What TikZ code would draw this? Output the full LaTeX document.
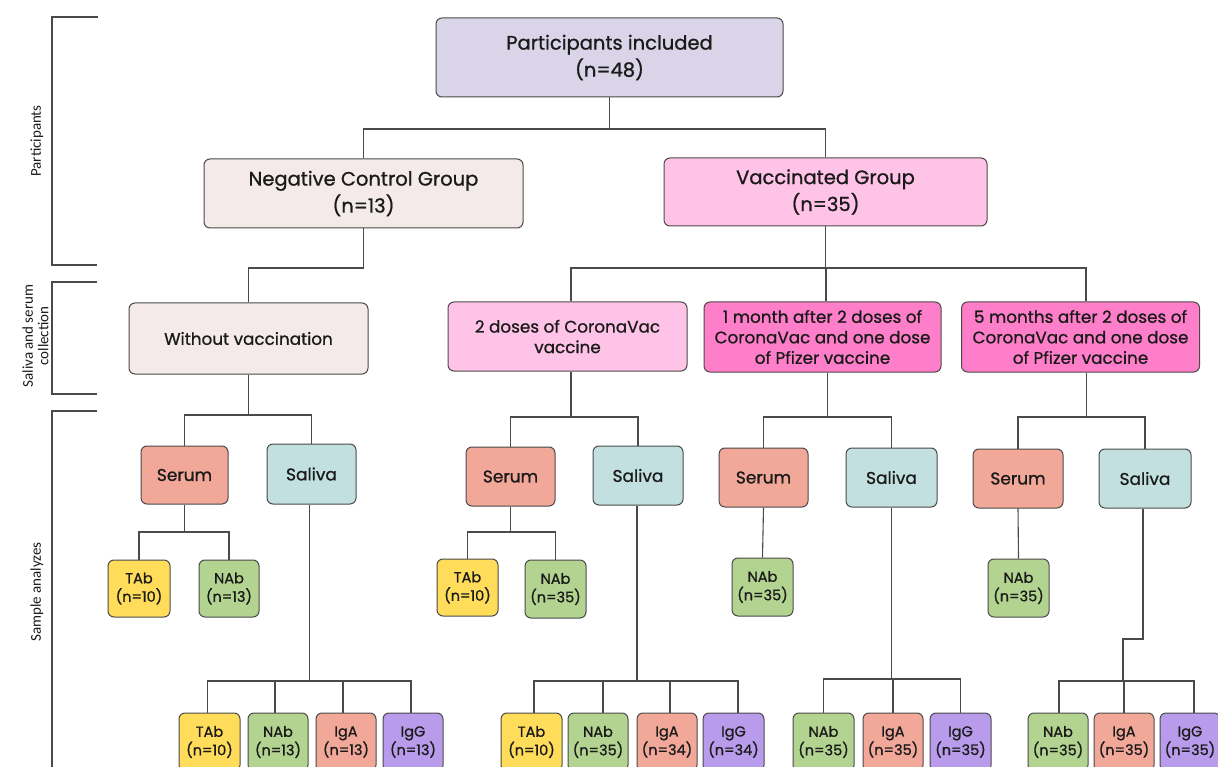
\documentclass[tikz,border=0pt]{standalone}
\usepackage{fontspec}
\setmainfont{Poppins}[FakeBold=0.9]
\newfontfamily\sidefont{Carlito}
\definecolor{clav}{HTML}{D9D4E7}
\definecolor{cneg}{HTML}{F4EAEA}
\definecolor{cpink}{HTML}{FFC3E7}
\definecolor{chot}{HTML}{FF7EC9}
\definecolor{cserum}{HTML}{F2A899}
\definecolor{csaliva}{HTML}{C3E0E0}
\definecolor{cyel}{HTML}{FFDD5A}
\definecolor{cgreen}{HTML}{B3D490}
\definecolor{cpurple}{HTML}{B89CEB}
\definecolor{cline}{HTML}{4A4A4A}
\definecolor{ctext}{HTML}{1A1A1A}
\tikzset{
  box/.style={draw=cline, line width=1pt, rounded corners=6pt, align=center,
    inner sep=0pt, text=ctext},
  fbig/.style={font={\fontsize{19.5}{27}\selectfont}},
  fmid/.style={font={\fontsize{16.8}{20.5}\selectfont}},
  fser/.style={font={\fontsize{17}{20}\selectfont}},
  fsmall/.style={font={\fontsize{14.5}{18.5}\selectfont}},
  conn/.style={draw=cline, line width=1.1pt},
  sidelab/.style={font={\sidefont\fontsize{15}{15.5}\selectfont}, rotate=90, align=center, text=ctext},
  bracket/.style={draw=cline, line width=1.1pt},
}
\begin{document}
\begin{tikzpicture}[x=1pt,y=-1pt]
\useasboundingbox (0,0) rectangle (1218,767);
\clip (0,0) rectangle (1218,767);
% side brackets
\draw[bracket] (98,17) -- (52,17) -- (52,265) -- (97,265);
\draw[bracket] (97,282) -- (52,282) -- (52,394) -- (97,394);
\draw[bracket] (97,411) -- (52,411) -- (52,775);
\node[sidelab] (L1) at (37,141) {Participants};
\node[sidelab] (L2) at (35.5,336) {Saliva and serum\\collection};
\node[sidelab] (L3) at (37,592) {Sample analyzes};
% level 0-1
\node[box,fbig,fill=clav,minimum width=347pt,minimum height=79pt] (P) at (609.5,57.5) {Participants included\\(n=48)};
\node[box,fbig,fill=cneg,minimum width=319pt,minimum height=69pt] (NC) at (363.5,193.5) {Negative Control Group\\(n=13)};
\node[box,fbig,fill=cpink,minimum width=323pt,minimum height=68pt] (VG) at (825.5,192) {Vaccinated Group\\(n=35)};
% level 2
\node[box,fmid,fill=cneg,minimum width=239pt,minimum height=71pt] (WV) at (248.5,338.5) {Without vaccination};
\node[box,fmid,fill=cpink,minimum width=239pt,minimum height=69pt] (D2) at (567.5,336.5) {2 doses of CoronaVac\\vaccine};
\node[box,fmid,fill=chot,minimum width=237pt,minimum height=70pt] (M1) at (822.5,337) {1 month after 2 doses of\\CoronaVac and one dose\\of Pfizer vaccine};
\node[box,fmid,fill=chot,minimum width=238pt,minimum height=70pt] (M5) at (1080.5,337) {5 months after 2 doses of\\CoronaVac and one dose\\of Pfizer vaccine};
% serum / saliva
\node[box,fser,fill=cserum,minimum width=87pt,minimum height=58pt] (Se1) at (184.5,475) {Serum};
\node[box,fser,fill=csaliva,minimum width=89pt,minimum height=60pt] (Sa1) at (311.5,474) {Saliva};
\node[box,fser,fill=cserum,minimum width=89pt,minimum height=59pt] (Se2) at (510.5,476.5) {Serum};
\node[box,fser,fill=csaliva,minimum width=90pt,minimum height=59pt] (Sa2) at (638,475.5) {Saliva};
\node[box,fser,fill=cserum,minimum width=89pt,minimum height=59pt] (Se3) at (763.5,477.5) {Serum};
\node[box,fser,fill=csaliva,minimum width=91pt,minimum height=59pt] (Sa3) at (891.5,477.5) {Saliva};
\node[box,fser,fill=cserum,minimum width=90pt,minimum height=59pt] (Se4) at (1018,478.5) {Serum};
\node[box,fser,fill=csaliva,minimum width=92pt,minimum height=59pt] (Sa4) at (1145,478.5) {Saliva};
% serum analyses
\node[box,fsmall,fill=cyel,minimum width=62pt,minimum height=57pt] (T1) at (139,588.5) {TAb\\(n=10)};
\node[box,fsmall,fill=cgreen,minimum width=60pt,minimum height=57pt] (N1) at (229,588.5) {NAb\\(n=13)};
\node[box,fsmall,fill=cyel,minimum width=61pt,minimum height=57pt] (T2) at (467.5,587.5) {TAb\\(n=10)};
\node[box,fsmall,fill=cgreen,minimum width=61pt,minimum height=58pt] (N2) at (555.5,589) {NAb\\(n=35)};
\node[box,fsmall,fill=cgreen,minimum width=61pt,minimum height=58pt] (N3) at (762.5,587) {NAb\\(n=35)};
\node[box,fsmall,fill=cgreen,minimum width=61pt,minimum height=58pt] (N4) at (1018.5,588) {NAb\\(n=35)};
% saliva analyses
\node[box,fsmall,fill=cyel,minimum width=61pt,minimum height=58pt] (bT1) at (209.5,742) {TAb\\(n=10)};
\node[box,fsmall,fill=cgreen,minimum width=60pt,minimum height=58pt] (bN1) at (278,742) {NAb\\(n=13)};
\node[box,fsmall,fill=cserum,minimum width=60pt,minimum height=58pt] (bA1) at (346,742) {IgA\\(n=13)};
\node[box,fsmall,fill=cpurple,minimum width=60pt,minimum height=58pt] (bG1) at (413,742) {IgG\\(n=13)};
\node[box,fsmall,fill=cyel,minimum width=61pt,minimum height=58pt] (bT2) at (531.5,742) {TAb\\(n=10)};
\node[box,fsmall,fill=cgreen,minimum width=60pt,minimum height=58pt] (bN2) at (598,742) {NAb\\(n=35)};
\node[box,fsmall,fill=cserum,minimum width=60pt,minimum height=58pt] (bA2) at (667,742) {IgA\\(n=34)};
\node[box,fsmall,fill=cpurple,minimum width=61pt,minimum height=58pt] (bG2) at (733.5,742) {IgG\\(n=34)};
\node[box,fsmall,fill=cgreen,minimum width=61pt,minimum height=58pt] (bN3) at (823.5,742) {NAb\\(n=35)};
\node[box,fsmall,fill=cserum,minimum width=60pt,minimum height=58pt] (bA3) at (893,742) {IgA\\(n=35)};
\node[box,fsmall,fill=cpurple,minimum width=61pt,minimum height=58pt] (bG3) at (960.5,742) {IgG\\(n=35)};
\node[box,fsmall,fill=cgreen,minimum width=60pt,minimum height=58pt] (bN4) at (1058,742) {NAb\\(n=35)};
\node[box,fsmall,fill=cserum,minimum width=60pt,minimum height=58pt] (bA4) at (1124,742) {IgA\\(n=35)};
\node[box,fsmall,fill=cpurple,minimum width=60pt,minimum height=58pt] (bG4) at (1190,742) {IgG\\(n=35)};
% junction levels
\coordinate (y1) at (0,129);
\coordinate (y2) at (0,268);
\coordinate (y3) at (0,415);
\coordinate (y3b) at (0,417);
\coordinate (y4) at (0,532);
\coordinate (y5) at (0,681);
\coordinate (y5b) at (0,679);
% connectors level 0 -> 1
\draw[conn] (P.south) -- (P.south |- y1) coordinate (jP);
\draw[conn] (jP) -| (NC.north);
\draw[conn] (jP) -| (VG.north);
% level 1 -> 2
\draw[conn] (NC.south) |- (WV.north |- y2) -- (WV.north);
\draw[conn] (VG.south) -- (VG.south |- y2) coordinate (jV);
\draw[conn] (jV) -| ([xshift=3.5pt]D2.north);
\draw[conn] (jV) -| ([xshift=3.5pt]M1.north);
\draw[conn] (jV) -| ([xshift=5.5pt]M5.north);
% level 2 -> 3
\draw[conn] (WV.south) -- (WV.south |- y3) coordinate (jW);
\draw[conn] (jW) -| (Se1.north);
\draw[conn] (jW) -| (Sa1.north);
\draw[conn] ([xshift=3.5pt]D2.south) -- ([xshift=3.5pt]D2.south |- y3b) coordinate (jD);
\draw[conn] (jD) -| (Se2.north);
\draw[conn] (jD) -| (Sa2.north);
\draw[conn] ([xshift=5pt]M1.south) -- ([xshift=5pt]M1.south |- y3b) coordinate (jM1);
\draw[conn] (jM1) -| (Se3.north);
\draw[conn] (jM1) -| (Sa3.north);
\draw[conn] ([xshift=6pt]M5.south) -- ([xshift=6pt]M5.south |- y3b) coordinate (jM5);
\draw[conn] (jM5) -| (Se4.north);
\draw[conn] (jM5) -| (Sa4.north);
% serum -> analyses
\draw[conn] (Se1.south) -- (Se1.south |- y4) coordinate (jS1);
\draw[conn] (jS1) -| (T1.north);
\draw[conn] (jS1) -| (N1.north);
\draw[conn] (Se2.south) -- (Se2.south |- y4) coordinate (jS2);
\draw[conn] (jS2) -| (T2.north);
\draw[conn] (jS2) -| (N2.north);
\draw[conn] (Se3.south) -- (N3.north);
\draw[conn] (Se4.south) -- (N4.north);
% saliva -> analyses
\draw[conn] ([xshift=-2pt]Sa1.south) -- ([xshift=-2pt]Sa1.south |- y5) coordinate (jA1);
\draw[conn] (jA1) -| ([xshift=-2pt]bT1.north);
\draw[conn] (jA1) -| ([xshift=-3pt]bN1.north);
\draw[conn] (jA1) -| ([xshift=-3pt]bA1.north);
\draw[conn] (jA1) -| ([xshift=-2pt]bG1.north);
\draw[conn] ([xshift=-1pt]Sa2.south) -- ([xshift=-1pt]Sa2.south |- y5) coordinate (jA2);
\draw[conn] (jA2) -| ([xshift=2.5pt]bT2.north);
\draw[conn] (jA2) -| ([xshift=5pt]bN2.north);
\draw[conn] (jA2) -| ([xshift=3pt]bA2.north);
\draw[conn] (jA2) -| ([xshift=4.5pt]bG2.north);
\draw[conn] (Sa3.south) -- (Sa3.south |- y5b) coordinate (jA3);
\draw[conn] (jA3) -| (bN3.north);
\draw[conn] (jA3) -| (bA3.north);
\draw[conn] (jA3) -| (bG3.north);
\coordinate (jog) at (1123,639);
\draw[conn] ([xshift=-2pt]Sa4.south) |- (jog) -- (jog |- y5) coordinate (jA4);
\draw[conn] (jA4) -| ([xshift=1pt]bN4.north);
\draw[conn] (jA4) -| (bA4.north);
\draw[conn] (jA4) -| ([xshift=4pt]bG4.north);
\end{tikzpicture}
\end{document}
